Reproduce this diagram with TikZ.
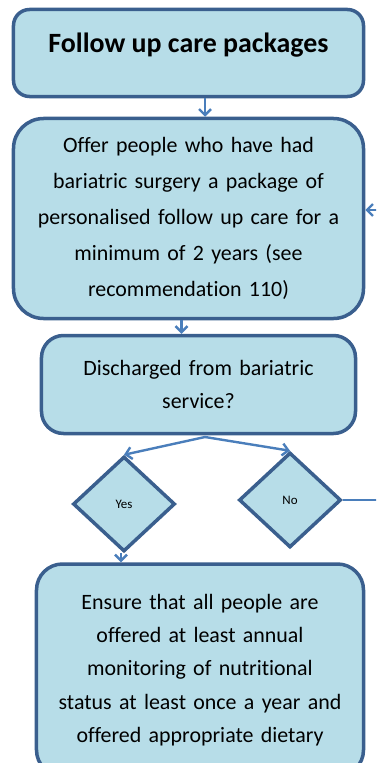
\documentclass[tikz,border=0pt]{standalone}
\usepackage{fontspec}
\setmainfont[Ligatures=NoCommon]{Carlito}
\usetikzlibrary{arrows.meta, shapes.geometric, positioning}

\definecolor{boxfill}{HTML}{B7DDE8}
\definecolor{boxline}{HTML}{3A5F8E}
\definecolor{flowline}{HTML}{4A7EBB}

\tikzset{
	stepbox/.style={draw=boxline, fill=boxfill, line width=3.5bp, rounded corners=22bp,
		inner sep=0pt, align=center, font=\fontsize{22}{36}\selectfont},
	choice/.style={diamond, draw=boxline, fill=boxfill, line width=3.5bp, inner sep=0pt,
		minimum width=102bp, minimum height=95bp, font=\fontsize{13}{14}\selectfont},
	flow/.style={draw=flowline, line width=2.4bp, -{Straight Barb[length=6bp,width=12bp]}},
}

\begin{document}
\begin{tikzpicture}[x=1bp, y=-1bp]

\useasboundingbox (0,0) rectangle (376,763);
\clip (0,0) rectangle (376,763);

% boxes
\node[stepbox, rounded corners=16bp, text width=350bp, minimum height=87bp] (top) at (188.5, 53) {};
\node[font=\bfseries\fontsize{28}{30}\selectfont] (title) at (188.5, 45) {Follow up care packages};

\node[stepbox, rounded corners=30bp, text width=350bp, minimum height=200bp] (offer) at (188.5, 218.5)
	{Offer people who have had\\ bariatric surgery a package of\\ personalised follow up care for a\\ minimum of 2 years (see\\ recommendation 110)};

\node[stepbox, font=\fontsize{22}{33}\selectfont, text width=314bp, minimum height=98bp] (discharged) at (198.5, 384.5)
	{Discharged from bariatric\\ service?};

\node[choice] (yes) at (124, 504) {Yes};
\node[choice] (no) at (290, 500) {No};

\node[stepbox, rounded corners=26bp, font=\fontsize{22}{33.5}\selectfont, text width=327bp, minimum height=212bp] (ensure) at (200, 670)
	{Ensure that all people are\\ offered at least annual\\ monitoring of nutritional\\ status at least once a year and\\ offered appropriate dietary};

% connectors
\coordinate (split) at (205, 437);
\coordinate (loopin) at (400, 210);
\coordinate (loopout) at (400, 498);

\draw[flow] (top.south -| split) -- (offer.north -| split);
\draw[flow] ([xshift=-7bp]offer.south) -- ([xshift=-7bp]offer.south |- discharged.north);
\draw[flow] (split) -- (yes.north);
\draw[flow] (split) -- (no.north);
\draw[flow] ([xshift=-3bp]yes.south) -- ([xshift=-3bp]yes.south |- ensure.north);
\draw[draw=flowline, line width=1.6bp] (no.east) -- (no.east -| loopout);
\draw[flow] (loopin) -- (loopin -| offer.east);

\end{tikzpicture}
\end{document}
